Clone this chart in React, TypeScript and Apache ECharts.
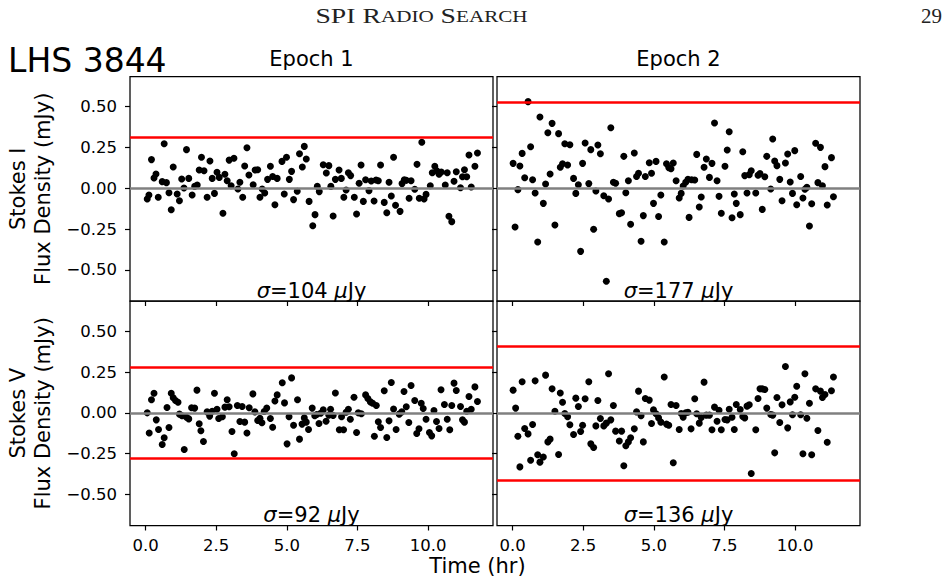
import React, { useEffect, useRef } from "react";
import * as echarts from "echarts";

// Light curves: [time (hr), flux density (mJy)]
const stokesIEpoch1: number[][] = [
  [0.06, -0.065], [0.12, -0.041], [0.21, 0.176], [0.30, 0.063], [0.37, 0.088], [0.45, -0.055], [0.59, 0.041], [0.66, 0.273], [0.74, 0.035], [0.83, -0.027],
  [0.91, -0.131], [0.98, 0.131], [1.12, -0.035], [1.20, -0.076], [1.28, 0.057], [1.36, 0.002], [1.45, 0.237], [1.53, 0.061], [1.65, -0.041], [1.74, 0.012],
  [1.83, 0.020], [1.90, 0.112], [1.98, 0.190], [2.07, 0.108], [2.18, -0.055], [2.28, 0.167], [2.36, 0.061], [2.44, -0.031], [2.53, 0.098], [2.61, 0.067],
  [2.74, -0.153], [2.81, 0.086], [2.89, 0.047], [2.96, 0.173], [3.03, 0.016], [3.13, 0.184], [3.27, -0.004], [3.34, 0.037], [3.44, -0.055], [3.51, 0.137],
  [3.59, 0.249], [3.66, 0.082], [3.81, 0.022], [3.88, 0.112], [3.97, 0.114], [4.05, -0.055], [4.13, -0.004], [4.22, -0.029], [4.32, 0.055], [4.42, 0.135],
  [4.50, 0.073], [4.58, -0.100], [4.66, 0.061], [4.83, 0.165], [4.91, -0.035], [4.99, 0.190], [5.09, 0.055], [5.17, 0.104], [5.24, -0.069], [5.37, -0.018],
  [5.45, 0.212], [5.55, 0.131], [5.62, 0.257], [5.69, 0.180], [5.79, -0.080], [5.92, -0.229], [6.00, -0.161], [6.08, 0.012], [6.15, -0.020], [6.29, 0.145],
  [6.40, 0.094], [6.49, 0.139], [6.56, 0.012], [6.64, -0.169], [6.72, 0.055], [6.85, 0.112], [6.93, 0.061], [7.02, -0.055], [7.10, -0.010], [7.18, 0.096],
  [7.26, 0.078], [7.39, -0.055], [7.47, -0.157], [7.56, 0.031], [7.63, 0.143], [7.71, -0.080], [7.79, 0.053], [7.91, -0.014], [7.99, 0.045], [8.09, -0.078],
  [8.16, 0.051], [8.24, 0.047], [8.32, 0.143], [8.45, -0.086], [8.54, -0.149], [8.62, 0.037], [8.70, -0.047], [8.78, 0.190], [8.85, -0.104], [9.01, -0.141],
  [9.08, 0.029], [9.16, 0.053], [9.23, 0.049], [9.33, -0.061], [9.40, 0.047], [9.53, -0.006], [9.61, 0.147], [9.69, -0.061], [9.78, 0.282], [9.86, -0.065],
  [9.93, -0.037], [10.08, 0.016], [10.15, 0.096], [10.24, 0.135], [10.31, 0.108], [10.39, 0.086], [10.47, 0.100], [10.61, 0.020], [10.68, 0.096], [10.74, -0.171],
  [10.84, -0.204], [10.92, 0.043], [11.00, 0.102], [11.15, 0.004], [11.22, 0.071], [11.29, 0.114], [11.37, 0.071], [11.45, 0.204], [11.53, 0.008], [11.66, 0.135],
  [11.75, 0.216],
];

const stokesIEpoch2: number[][] = [
  [0.02, 0.153], [0.09, -0.237], [0.19, -0.008], [0.26, 0.137], [0.34, 0.214], [0.43, 0.065], [0.55, 0.531], [0.64, 0.255], [0.71, 0.053], [0.80, -0.029],
  [0.89, -0.329], [0.97, 0.437], [1.09, -0.092], [1.17, 0.027], [1.25, 0.341], [1.33, 0.088], [1.40, 0.398], [1.50, -0.224], [1.63, 0.335], [1.69, 0.129],
  [1.77, 0.151], [1.85, 0.273], [1.95, 0.143], [2.03, 0.267], [2.16, 0.061], [2.24, -0.031], [2.33, 0.022], [2.41, -0.386], [2.48, 0.153], [2.57, 0.278],
  [2.70, 0.029], [2.77, 0.237], [2.87, -0.251], [2.95, -0.016], [3.02, 0.265], [3.11, 0.212], [3.23, -0.045], [3.32, -0.569], [3.40, -0.065], [3.48, 0.371],
  [3.57, 0.037], [3.65, 0.031], [3.78, -0.155], [3.86, -0.149], [3.94, 0.196], [4.01, -0.027], [4.10, 0.047], [4.18, -0.220], [4.31, 0.216], [4.39, 0.073],
  [4.46, 0.092], [4.55, -0.324], [4.63, -0.167], [4.70, 0.073], [4.84, 0.157], [4.92, 0.092], [4.99, -0.092], [5.08, 0.165], [5.17, -0.173], [5.25, -0.041],
  [5.37, -0.329], [5.45, 0.151], [5.53, 0.127], [5.61, 0.120], [5.69, 0.155], [5.79, 0.047], [5.90, -0.059], [5.97, -0.031], [6.04, 0.014], [6.13, 0.037],
  [6.21, 0.055], [6.25, -0.178], [6.34, 0.053], [6.45, 0.051], [6.52, 0.208], [6.61, -0.114], [6.68, -0.053], [6.78, 0.129], [6.86, 0.180], [6.97, 0.067],
  [7.06, 0.153], [7.15, 0.400], [7.24, 0.047], [7.31, -0.049], [7.39, -0.153], [7.52, 0.135], [7.60, 0.235], [7.67, 0.347], [7.77, -0.180], [7.85, -0.035],
  [7.92, -0.092], [8.06, -0.161], [8.15, 0.224], [8.22, 0.078], [8.30, -0.029], [8.38, 0.084], [8.45, 0.108], [8.61, -0.029], [8.69, 0.080], [8.76, 0.090],
  [8.84, -0.129], [8.93, 0.071], [9.00, 0.196], [9.14, -0.004], [9.21, 0.302], [9.28, 0.167], [9.36, 0.139], [9.46, 0.055], [9.54, -0.076], [9.66, 0.155],
  [9.74, 0.210], [9.83, 0.039], [9.91, -0.031], [9.99, 0.231], [10.06, -0.100], [10.20, 0.073], [10.28, -0.059], [10.35, -0.006], [10.42, 0.006], [10.51, -0.231],
  [10.59, -0.094], [10.73, 0.276], [10.81, 0.035], [10.90, 0.251], [10.97, 0.016], [11.06, 0.133], [11.14, -0.102], [11.29, 0.188], [11.36, -0.051],
];

const stokesVEpoch1: number[][] = [
  [0.06, 0.000], [0.13, -0.124], [0.21, 0.080], [0.30, 0.120], [0.38, -0.043], [0.46, -0.102], [0.59, -0.194], [0.66, -0.153], [0.76, 0.033], [0.83, -0.090],
  [0.91, 0.120], [0.98, 0.092], [1.06, 0.076], [1.15, 0.065], [1.20, -0.008], [1.29, -0.018], [1.37, -0.224], [1.45, -0.027], [1.53, -0.037], [1.63, 0.031],
  [1.74, 0.029], [1.82, 0.139], [1.90, -0.067], [1.96, -0.110], [2.05, -0.176], [2.18, 0.006], [2.27, -0.020], [2.36, 0.010], [2.44, 0.120], [2.53, 0.022],
  [2.59, -0.035], [2.72, -0.024], [2.81, 0.035], [2.89, 0.080], [2.96, 0.037], [3.06, -0.114], [3.14, -0.251], [3.25, 0.045], [3.34, -0.053], [3.42, 0.039],
  [3.51, -0.057], [3.59, -0.124], [3.67, 0.031], [3.80, 0.116], [3.87, 0.006], [3.97, -0.047], [4.05, -0.033], [4.12, -0.061], [4.20, 0.008], [4.29, 0.029],
  [4.42, -0.035], [4.50, -0.088], [4.58, 0.073], [4.66, 0.110], [4.84, 0.184], [4.92, 0.061], [5.01, -0.190], [5.08, -0.024], [5.17, 0.214], [5.24, -0.076],
  [5.38, 0.080], [5.45, -0.161], [5.54, -0.069], [5.62, -0.031], [5.69, -0.057], [5.77, -0.102], [5.90, 0.029], [5.99, -0.018], [6.06, -0.010], [6.14, -0.065],
  [6.20, -0.002], [6.29, 0.018], [6.39, -0.051], [6.49, -0.014], [6.55, 0.022], [6.64, -0.016], [6.72, 0.122], [6.86, -0.104], [6.94, -0.024], [7.01, -0.104],
  [7.10, 0.004], [7.18, 0.022], [7.25, -0.039], [7.38, 0.096], [7.47, -0.120], [7.53, 0.000], [7.64, -0.006], [7.79, 0.110], [7.87, 0.088], [7.96, 0.067],
  [8.04, 0.059], [8.10, -0.143], [8.17, 0.045], [8.24, -0.055], [8.32, -0.090], [8.45, 0.135], [8.54, -0.151], [8.62, -0.049], [8.70, 0.186], [8.78, 0.024],
  [8.87, -0.102], [8.98, -0.008], [9.07, 0.006], [9.15, 0.131], [9.23, 0.037], [9.32, -0.059], [9.40, 0.167], [9.53, 0.076], [9.60, -0.127], [9.68, -0.098],
  [9.76, 0.059], [9.83, 0.027], [9.93, -0.039], [10.05, -0.120], [10.13, -0.141], [10.21, 0.014], [10.30, -0.053], [10.39, -0.096], [10.46, 0.141], [10.58, 0.051],
  [10.68, -0.039], [10.77, -0.104], [10.84, 0.045], [10.92, 0.182], [11.00, 0.137], [11.15, 0.039], [11.22, -0.043], [11.29, -0.057], [11.37, 0.010], [11.45, 0.100],
  [11.53, 0.022], [11.66, 0.159], [11.75, 0.069],
];

const stokesVEpoch2: number[][] = [
  [0.02, 0.139], [0.11, 0.029], [0.19, -0.143], [0.26, -0.331], [0.34, 0.190], [0.43, -0.096], [0.55, -0.129], [0.64, -0.290], [0.71, -0.071], [0.80, 0.196],
  [0.89, -0.257], [0.97, -0.302], [1.09, -0.271], [1.17, 0.231], [1.25, -0.178], [1.33, -0.161], [1.40, 0.147], [1.50, 0.010], [1.63, -0.255], [1.69, 0.122],
  [1.77, 0.065], [1.85, -0.004], [1.95, -0.024], [2.03, -0.073], [2.16, -0.133], [2.24, 0.090], [2.33, 0.039], [2.41, -0.114], [2.48, -0.076], [2.57, 0.086],
  [2.70, 0.190], [2.77, -0.190], [2.87, -0.212], [2.95, -0.080], [3.02, 0.076], [3.11, -0.035], [3.23, -0.080], [3.32, -0.063], [3.40, 0.239], [3.48, -0.043],
  [3.57, 0.045], [3.65, -0.112], [3.78, -0.173], [3.86, -0.112], [3.94, -0.324], [4.01, -0.202], [4.10, -0.178], [4.18, -0.153], [4.31, -0.098], [4.39, 0.006],
  [4.46, 0.133], [4.55, -0.018], [4.63, -0.178], [4.70, 0.088], [4.84, 0.078], [4.92, -0.065], [4.99, 0.018], [5.08, -0.006], [5.17, -0.031], [5.25, -0.057],
  [5.37, 0.220], [5.45, -0.069], [5.53, -0.076], [5.61, 0.051], [5.69, -0.306], [5.79, 0.045], [5.90, -0.102], [5.97, -0.004], [6.04, -0.027], [6.13, 0.000],
  [6.21, 0.004], [6.32, -0.098], [6.45, 0.086], [6.52, -0.006], [6.61, -0.063], [6.68, -0.029], [6.78, 0.188], [6.86, -0.014], [6.97, -0.014], [7.06, -0.104],
  [7.15, 0.035], [7.24, -0.051], [7.31, 0.016], [7.39, -0.104], [7.52, -0.041], [7.60, -0.043], [7.67, 0.022], [7.77, -0.027], [7.85, -0.102], [7.92, 0.051],
  [8.06, 0.020], [8.15, -0.022], [8.22, -0.031], [8.30, 0.041], [8.38, 0.049], [8.45, -0.371], [8.61, -0.104], [8.69, 0.088], [8.76, 0.147], [8.84, 0.147],
  [8.93, 0.143], [9.00, 0.029], [9.14, -0.010], [9.21, -0.014], [9.28, -0.245], [9.36, 0.094], [9.46, -0.059], [9.54, 0.049], [9.66, 0.284], [9.74, -0.092],
  [9.83, 0.067], [9.91, -0.012], [9.99, 0.096], [10.06, 0.163], [10.20, -0.012], [10.28, -0.251], [10.35, 0.239], [10.42, -0.033], [10.51, 0.059], [10.59, -0.257],
  [10.73, 0.147], [10.81, -0.108], [10.90, 0.133], [10.97, 0.094], [11.06, 0.112], [11.14, -0.180], [11.29, 0.135], [11.36, 0.220],
];

// Image rms noise per panel (μJy)
const sigmaMicroJy: number[] = [104, 177, 92, 136];
const epochTitles: string[] = ["Epoch 1", "Epoch 2"];
const stokesNames: string[] = ["Stokes I", "Stokes V"];
const timeTicks: number[] = [0, 2.5, 5, 7.5, 10];
const fluxTicks: number[] = [-0.5, -0.25, 0, 0.25, 0.5];

const FONT = "DejaVu Sans";

export default function App() {
  const ref = useRef<HTMLDivElement>(null);

  useEffect(() => {
    if (!ref.current) return;
    const chart = echarts.init(ref.current, null, { renderer: "svg" });

    const panels = [stokesIEpoch1, stokesIEpoch2, stokesVEpoch1, stokesVEpoch2];
    const lefts = [130, 497];
    const tops = [76.5, 301];
    const W = 363;
    const H = 224.5;

    const grids: any[] = [];
    const xAxes: any[] = [];
    const yAxes: any[] = [];
    const series: any[] = [];

    panels.forEach((data, i) => {
      const col = i % 2;
      const row = Math.floor(i / 2);
      grids.push({
        left: lefts[col],
        top: tops[row],
        width: W,
        height: H,
        show: true,
        borderColor: "#000",
        borderWidth: 1.25,
        backgroundColor: "transparent",
        containLabel: false,
      });
      xAxes.push({
        type: "value",
        gridIndex: i,
        position: "bottom",
        min: -0.55,
        max: 12.3,
        axisLine: { show: false, onZero: false },
        splitLine: { show: false },
        axisTick: {
          show: true,
          inside: false,
          length: 5,
          customValues: timeTicks,
          lineStyle: { color: "#000", width: 1.2 },
        },
        axisLabel: {
          show: row === 1,
          customValues: timeTicks,
          margin: 11,
          fontSize: 16.5,
          fontFamily: FONT,
          color: "#000",
          formatter: (v: number) => v.toFixed(1),
        },
      });
      yAxes.push({
        type: "value",
        gridIndex: i,
        position: "left",
        min: -0.69,
        max: 0.685,
        axisLine: { show: false, onZero: false },
        splitLine: { show: false },
        axisTick: {
          show: true,
          inside: false,
          length: 5,
          customValues: fluxTicks,
          lineStyle: { color: "#000", width: 1.2 },
        },
        axisLabel: {
          show: col === 0,
          customValues: fluxTicks,
          margin: 13,
          fontSize: 16.5,
          fontFamily: FONT,
          color: "#000",
          formatter: (v: number) => (v < 0 ? "\u2212" : "") + Math.abs(v).toFixed(2),
        },
      });

      // 3-sigma thresholds; Stokes V is checked on both signs
      const thr = (3 * sigmaMicroJy[i]) / 1000;
      const lines: any[] = [
        { yAxis: 0, lineStyle: { color: "#808080", width: 2.5, type: "solid" } },
        { yAxis: thr, lineStyle: { color: "#ff0000", width: 2.5, type: "solid" } },
      ];
      if (row === 1) {
        lines.push({ yAxis: -thr, lineStyle: { color: "#ff0000", width: 2.5, type: "solid" } });
      }
      series.push({
        type: "line",
        xAxisIndex: i,
        yAxisIndex: i,
        data: [],
        z: 1,
        silent: true,
        markLine: {
          silent: true,
          symbol: ["none", "none"],
          label: { show: false },
          data: lines,
        },
      });
      series.push({
        type: "scatter",
        xAxisIndex: i,
        yAxisIndex: i,
        data,
        z: 3,
        symbol: "circle",
        symbolSize: 7,
        itemStyle: { color: "#000", opacity: 1 },
      });
    });

    const centers = lefts.map((l) => l + W / 2);
    const graphic: any[] = [
      {
        type: "text",
        x: 421.5,
        y: 16,
        scaleX: 1.32,
        style: {
          text: "{b|SPI R}{s|ADIO}{b| S}{s|EARCH}",
          align: "center",
          verticalAlign: "middle",
          fill: "#222",
          rich: {
            b: { fontFamily: "Liberation Serif", fontSize: 21, fill: "#222" },
            s: { fontFamily: "Liberation Serif", fontSize: 16, fill: "#222" },
          },
        },
      },
      {
        type: "text",
        x: 942,
        y: 16,
        style: {
          text: "29",
          align: "right",
          verticalAlign: "middle",
          fontFamily: "Liberation Serif",
          fontSize: 21,
          fill: "#222",
        },
      },
      {
        type: "text",
        x: 8,
        y: 60,
        style: {
          text: "LHS 3844",
          align: "left",
          verticalAlign: "middle",
          fontFamily: FONT,
          fontSize: 33,
          fill: "#000",
        },
      },
      {
        type: "text",
        x: 477.5,
        y: 566,
        style: {
          text: "Time (hr)",
          align: "center",
          verticalAlign: "middle",
          fontFamily: FONT,
          fontSize: 21,
          fill: "#000",
        },
      },
    ];

    epochTitles.forEach((t, c) => {
      graphic.push({
        type: "text",
        x: centers[c],
        y: 59,
        style: {
          text: t,
          align: "center",
          verticalAlign: "middle",
          fontFamily: FONT,
          fontSize: 21,
          fill: "#000",
        },
      });
    });

    stokesNames.forEach((s, r) => {
      graphic.push({
        type: "text",
        x: 30,
        y: tops[r] + H / 2,
        rotation: Math.PI / 2,
        style: {
          text: s + "\nFlux Density (mJy)",
          align: "center",
          verticalAlign: "middle",
          fontFamily: FONT,
          fontSize: 21,
          lineHeight: 25,
          fill: "#000",
        },
      });
    });

    sigmaMicroJy.forEach((sg, i) => {
      const col = i % 2;
      const row = Math.floor(i / 2);
      graphic.push({
        type: "text",
        x: centers[col],
        y: tops[row] + H - 10.5,
        style: {
          text: "{i|\u03c3}=" + sg + " {i|\u03bc}Jy",
          align: "center",
          verticalAlign: "middle",
          fontFamily: FONT,
          fontSize: 21,
          fill: "#000",
          rich: {
            i: { fontFamily: FONT, fontStyle: "italic", fontSize: 21, fill: "#000" },
          },
        },
      });
    });

    chart.setOption({
      animation: false,
      backgroundColor: "#fff",
      grid: grids,
      xAxis: xAxes,
      yAxis: yAxes,
      series,
      graphic,
    });

    return () => chart.dispose();
  }, []);

  return (
    <div
      ref={ref}
      style={{ position: "absolute", left: 0, top: 0, width: 947, height: 583 }}
    />
  );
}
